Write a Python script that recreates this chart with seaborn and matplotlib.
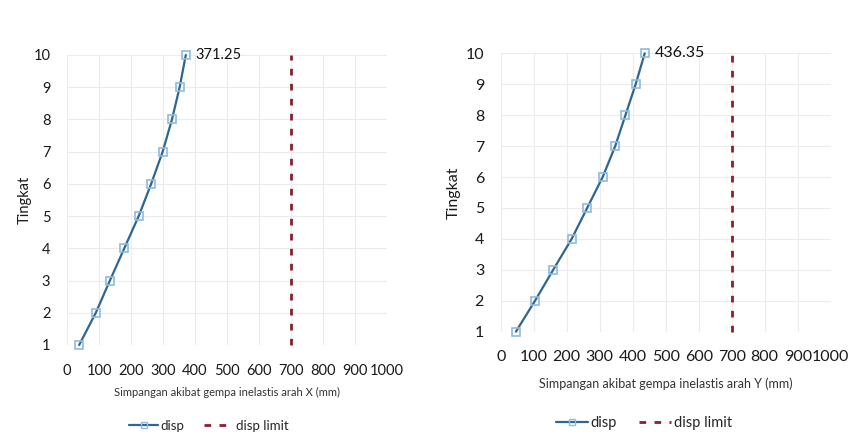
import matplotlib
matplotlib.use("Agg")
import matplotlib.pyplot as plt
from matplotlib.lines import Line2D
import seaborn as sns
import pandas as pd

sns.set_theme(style="white")
plt.rcParams["font.family"] = ["Lato", "DejaVu Sans"]

# Storey levels and inelastic displacement (mm) in each direction
storeys = [1, 2, 3, 4, 5, 6, 7, 8, 9, 10]
disp_x = [38, 90, 134, 179, 224, 263, 299, 328, 352, 371.25]
disp_y = [46, 104, 159, 215, 262, 309, 347, 378, 409, 436.35]
disp_limit = 700
x_ticks = [0, 100, 200, 300, 400, 500, 600, 700, 800, 900, 1000]
y_ticks = storeys

LINE = "#2f6690"
MARK = "#8fbbe0"
LIMIT = "#8a1f30"
GRID = "#ececec"
DASH = (0, (2.4, 3.0))

W, H = 857, 443
fig = plt.figure(figsize=(W / 100, H / 100), dpi=100)


def panel(rect, disp, direction, fs, xfs, tick_pad, label_pad, ylabel_pad,
          legend_xy):
    ax = fig.add_axes(rect)
    df = pd.DataFrame({"disp": disp, "Tingkat": storeys})
    sns.lineplot(data=df, x="disp", y="Tingkat", sort=False, estimator=None,
                 ax=ax, color=LINE, linewidth=1.6, marker="s", markersize=6,
                 markerfacecolor="none", markeredgecolor=MARK,
                 markeredgewidth=1.2, clip_on=False, zorder=3)
    lim = pd.DataFrame({"disp": [disp_limit, disp_limit],
                        "Tingkat": [storeys[0], storeys[-1]]})
    sns.lineplot(data=lim, x="disp", y="Tingkat", sort=False, estimator=None,
                 ax=ax, color=LIMIT, linewidth=2.0, linestyle=DASH,
                 clip_on=False, zorder=2)
    ax.set_xlim(0, 1000)
    ax.set_ylim(1, 10)
    ax.set_xticks(x_ticks)
    ax.set_yticks(y_ticks)
    ax.grid(True, color=GRID, linewidth=0.8)
    for s in ax.spines.values():
        s.set_visible(False)
    ax.tick_params(axis="both", length=0, labelsize=fs, colors="#1a1a1a")
    ax.tick_params(axis="x", pad=tick_pad)
    ax.tick_params(axis="y", pad=12)
    ax.set_xlabel(f"Simpangan akibat gempa inelastis arah {direction} (mm)",
                  fontsize=xfs, color="#333333", labelpad=label_pad)
    ax.set_ylabel("Tingkat", fontsize=fs, color="#1a1a1a",
                  labelpad=ylabel_pad)
    ax.annotate(f"{disp[-1]:.2f}", xy=(disp[-1], storeys[-1]),
                xytext=(7, 0), textcoords="offset points",
                ha="left", va="center", fontsize=fs, color="#111111")
    handles = [
        Line2D([], [], color=LINE, linewidth=1.6, marker="s", markersize=5,
               markerfacecolor="none", markeredgecolor=MARK),
        Line2D([], [], color=LIMIT, linewidth=2.0, linestyle=DASH),
    ]
    fig.legend(handles, ["disp", "disp limit"], loc="center",
               bbox_to_anchor=legend_xy, ncol=2, frameon=False,
               fontsize=xfs + 1.5, handlelength=2.2, handletextpad=0.2,
               columnspacing=1.5)
    return ax


panel([67 / W, 1 - 345 / H, 320 / W, 290 / H], disp_x, "X",
      fs=10.5, xfs=8, tick_pad=13.5, label_pad=6.5, ylabel_pad=1,
      legend_xy=(209 / W, 1 - 426 / H))
panel([500.7 / W, 1 - 331.7 / H, 330 / W, 278.4 / H], disp_y, "Y",
      fs=11.5, xfs=9, tick_pad=13.5, label_pad=9.5, ylabel_pad=3,
      legend_xy=(644 / W, 1 - 423 / H))

fig.savefig("out.png", dpi=100, facecolor="white")
